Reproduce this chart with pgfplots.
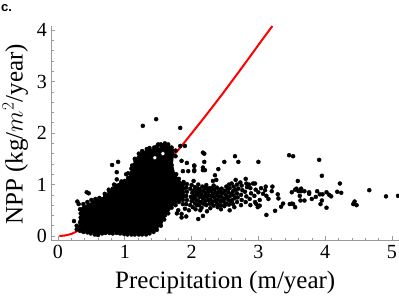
\documentclass[border=0pt]{standalone}
\usepackage{pgfplots}
\pgfplotsset{compat=1.18}
\usepackage{fontspec}
\setmainfont{Liberation Serif}
\newfontfamily\hv{Liberation Sans}
\definecolor{axgray}{gray}{0.6}
\begin{document}
\begin{tikzpicture}[x=1pt,y=1pt]
\path[use as bounding box] (0,0) rectangle (399,297);
\node[anchor=base west,inner sep=0pt,font=\hv\bfseries\fontsize{13}{14}\selectfont] at (1,285.5) {c.};
\begin{axis}[
 at={(51.5pt,56.5pt)},anchor=origin,scale only axis,width=347.5pt,height=214.5pt,
 anchor=south west,
 xmin=-0.097,xmax=5.105,ymin=-0.087,ymax=4.08,
 axis lines=left,axis line style={-,axgray,line width=0.7pt},
 xtick={0,1,2,3,4,5},ytick={0,1,2,3,4},
 minor x tick num=4,minor y tick num=4,
 tick align=inside,tick style={axgray,line width=0.6pt},
 major tick length=4pt,minor tick length=2.5pt,
 tick label style={font=\fontsize{20}{21}\selectfont},
 /pgf/number format/assume math mode=true,
 xticklabel style={yshift=-1pt},
 yticklabel style={xshift=-1pt},
 xlabel={Precipitation (m/year)},
 ylabel={NPP (kg/$m^2$/year)},
 label style={font=\fontsize{25}{26}\selectfont},
 xlabel style={at={(axis description cs:0.5,0)},anchor=north,yshift=-27pt},
 ylabel style={at={(axis description cs:0,0.495)},anchor=south,yshift=20pt},
 clip=false,
]
\addplot[red,line width=2pt,smooth,tension=0.3] coordinates {(0.02,0)(0.1,0.01)(0.2,0.04)(0.25,0.07)(0.5,0.25)(1,0.75)(1.5,1.3)(1.78,1.64)(2.2,2.32)(2.45,2.74)(2.77,3.3)(3.05,3.8)(3.21,4.08)};
% saturated core of the point cloud
\addplot[fill=black,draw=none] coordinates {(0.3,0.12)(0.45,0.08)(0.6,0.04)(0.85,0.07)(1.03,0.04)(1.37,0.05)(1.48,0.13)(1.55,0.25)(1.65,0.47)(1.75,0.62)(1.85,0.68)(1.9,0.75)(1.88,1.0)(1.76,1.18)(1.72,1.4)(1.74,1.62)(1.62,1.72)(1.55,1.72)(1.43,1.7)(1.32,1.68)(1.2,1.58)(1.15,1.48)(1.1,1.33)(1.04,1.06)(0.88,1.02)(0.78,0.88)(0.66,0.75)(0.5,0.66)(0.34,0.55)(0.3,0.12)};
\addplot[only marks,mark=*,mark size=2pt,mark options={fill=white,draw=none},forget plot] coordinates {(1.57,1.6)(1.45,1.52)};
\addplot[only marks,mark=*,mark size=2pt,mark options={fill=black,draw=none},black] coordinates {
(0.33,0.52)(0.38,0.62)(0.44,0.66)(0.5,0.7)(0.56,0.72)(0.62,0.74)(0.7,0.82)(0.76,0.9)(0.84,1.0)(0.88,1.1)(0.95,1.06)(1.65,1.78)(1.7,1.72)(1.76,1.66)(1.6,1.8)
(0.24,0.29)(0.28,0.13)(0.28,0.2)(0.29,0.67)(0.31,0.62)(0.33,0.1)(0.33,0.18)(0.33,0.27)(0.34,0.36)(0.34,0.44)
(0.38,0.08)(0.38,0.15)(0.39,0.23)(0.38,0.31)(0.39,0.39)(0.38,0.47)(0.39,0.55)
(0.43,0.85)(0.46,0.83)
(0.44,0.07)(0.43,0.13)(0.44,0.2)(0.45,0.28)(0.43,0.35)(0.45,0.43)(0.44,0.5)(0.45,0.58)
(0.49,0.05)(0.5,0.11)(0.49,0.18)(0.5,0.25)(0.49,0.33)(0.5,0.4)(0.49,0.48)(0.5,0.56)(0.51,0.61)
(0.55,0.03)(0.55,0.1)(0.56,0.16)(0.55,0.24)(0.56,0.31)(0.55,0.38)(0.56,0.46)(0.55,0.53)(0.56,0.6)(0.55,0.66)
(0.6,0.02)(0.61,0.08)(0.6,0.15)(0.61,0.22)(0.6,0.3)(0.61,0.37)(0.6,0.44)(0.61,0.52)(0.6,0.6)(0.61,0.68)
(0.66,0.05)(0.66,0.12)(0.67,0.19)(0.66,0.27)(0.67,0.34)(0.66,0.41)(0.67,0.49)(0.66,0.56)(0.67,0.64)(0.66,0.71)
(0.71,0.06)(0.72,0.14)(0.71,0.21)(0.72,0.29)(0.71,0.36)(0.72,0.44)(0.71,0.51)(0.72,0.59)(0.71,0.66)(0.72,0.73)(0.71,0.78)
(0.77,0.06)(0.77,0.13)(0.78,0.2)(0.77,0.27)(0.78,0.35)(0.77,0.42)(0.78,0.5)(0.77,0.57)(0.78,0.65)(0.77,0.72)(0.78,0.79)(0.77,0.86)
(0.81,1.38)(0.9,1.44)(0.88,1.24)(0.86,0.98)
(0.82,0.05)(0.83,0.12)(0.82,0.19)(0.83,0.27)(0.82,0.34)(0.83,0.42)(0.82,0.49)(0.83,0.57)(0.82,0.64)(0.83,0.72)(0.82,0.79)(0.83,0.86)(0.82,0.92)
(0.88,0.06)(0.88,0.14)(0.89,0.21)(0.88,0.29)(0.89,0.36)(0.88,0.44)(0.89,0.51)(0.88,0.59)(0.89,0.66)(0.88,0.74)(0.89,0.81)(0.88,0.89)(0.89,0.95)
(0.93,0.05)(0.94,0.12)(0.93,0.2)(0.94,0.27)(0.93,0.35)(0.94,0.42)(0.93,0.5)(0.94,0.57)(0.93,0.65)(0.94,0.72)(0.93,0.8)(0.94,0.87)(0.93,0.95)(0.94,1.01)
(0.99,0.04)(0.99,0.11)(1.0,0.19)(0.99,0.26)(1.0,0.34)(0.99,0.41)(1.0,0.49)(0.99,0.56)(1.0,0.64)(0.99,0.71)(1.0,0.79)(0.99,0.86)(1.0,0.94)(0.99,1.01)(1.0,1.07)
(1.05,1.22)(1.02,1.2)
(1.04,0.03)(1.05,0.1)(1.04,0.18)(1.05,0.25)(1.04,0.33)(1.05,0.4)(1.04,0.48)(1.05,0.55)(1.04,0.63)(1.05,0.7)(1.04,0.78)(1.05,0.85)(1.04,0.93)(1.05,1.0)(1.04,1.08)(1.05,1.13)
(1.1,0.03)(1.1,0.11)(1.11,0.18)(1.1,0.26)(1.11,0.33)(1.1,0.41)(1.11,0.48)(1.1,0.56)(1.11,0.63)(1.1,0.71)(1.11,0.78)(1.1,0.86)(1.11,0.93)(1.1,1.01)(1.11,1.08)(1.1,1.16)(1.11,1.23)(1.1,1.31)(1.11,1.37)
(1.15,0.03)(1.16,0.1)(1.15,0.18)(1.16,0.25)(1.15,0.33)(1.16,0.4)(1.15,0.48)(1.16,0.55)(1.15,0.63)(1.16,0.7)(1.15,0.78)(1.16,0.85)(1.15,0.93)(1.16,1.0)(1.15,1.08)(1.16,1.15)(1.15,1.23)(1.16,1.3)(1.15,1.38)(1.16,1.45)(1.15,1.5)
(1.21,0.03)(1.21,0.11)(1.22,0.18)(1.21,0.26)(1.22,0.33)(1.21,0.41)(1.22,0.48)(1.21,0.56)(1.22,0.63)(1.21,0.71)(1.22,0.78)(1.21,0.86)(1.22,0.93)(1.21,1.01)(1.22,1.08)(1.21,1.16)(1.22,1.23)(1.21,1.31)(1.22,1.38)(1.21,1.46)(1.22,1.53)(1.21,1.6)
(1.27,2.14)(1.47,2.27)(1.83,2.10)(1.83,1.75)(1.90,1.75)
(1.26,0.03)(1.27,0.1)(1.26,0.18)(1.27,0.25)(1.26,0.33)(1.27,0.4)(1.26,0.48)(1.27,0.55)(1.26,0.63)(1.27,0.7)(1.26,0.78)(1.27,0.85)(1.26,0.93)(1.27,1.0)(1.26,1.08)(1.27,1.15)(1.26,1.23)(1.27,1.3)(1.26,1.38)(1.27,1.45)(1.26,1.53)(1.27,1.6)(1.26,1.65)
(1.32,0.03)(1.32,0.11)(1.33,0.18)(1.32,0.26)(1.33,0.33)(1.32,0.41)(1.33,0.48)(1.32,0.56)(1.33,0.63)(1.32,0.71)(1.33,0.78)(1.32,0.86)(1.33,0.93)(1.32,1.01)(1.33,1.08)(1.32,1.16)(1.33,1.23)(1.32,1.31)(1.33,1.38)(1.32,1.46)(1.33,1.53)(1.32,1.61)(1.33,1.69)
(1.37,0.05)(1.38,0.12)(1.37,0.2)(1.38,0.27)(1.37,0.35)(1.38,0.42)(1.37,0.5)(1.38,0.57)(1.37,0.65)(1.38,0.72)(1.37,0.8)(1.38,0.87)(1.37,0.95)(1.38,1.02)(1.37,1.1)(1.38,1.17)(1.37,1.25)(1.38,1.32)(1.37,1.4)(1.38,1.47)(1.37,1.55)(1.38,1.62)(1.37,1.71)
(1.43,0.08)(1.43,0.16)(1.44,0.23)(1.43,0.31)(1.44,0.38)(1.43,0.46)(1.44,0.53)(1.43,0.61)(1.44,0.68)(1.43,0.76)(1.44,0.83)(1.43,0.91)(1.44,0.98)(1.43,1.06)(1.44,1.13)(1.43,1.21)(1.44,1.28)(1.43,1.36)(1.44,1.66)(1.44,1.72)
(1.48,0.12)(1.49,0.2)(1.48,0.27)(1.49,0.35)(1.48,0.42)(1.49,0.5)(1.48,0.57)(1.49,0.65)(1.48,0.72)(1.49,0.8)(1.48,0.87)(1.49,0.95)(1.48,1.02)(1.49,1.1)(1.48,1.17)(1.49,1.25)(1.48,1.32)(1.49,1.4)(1.49,1.68)(1.48,1.74)
(1.54,0.2)(1.54,0.27)(1.55,0.35)(1.54,0.42)(1.55,0.5)(1.54,0.57)(1.55,0.65)(1.54,0.72)(1.55,0.8)(1.54,0.87)(1.55,0.95)(1.54,1.02)(1.55,1.1)(1.54,1.17)(1.55,1.25)(1.54,1.32)(1.55,1.39)(1.54,1.47)(1.55,1.73)(1.54,1.78)(1.5,1.78)
(1.59,0.32)(1.6,0.4)(1.59,0.47)(1.6,0.55)(1.59,0.62)(1.6,0.7)(1.59,0.77)(1.6,0.85)(1.59,0.92)(1.6,1.0)(1.59,1.07)(1.6,1.15)(1.59,1.22)(1.6,1.3)(1.59,1.38)(1.6,1.45)(1.6,1.72)(1.59,1.77)
(1.65,0.44)(1.65,0.52)(1.66,0.59)(1.65,0.67)(1.66,0.74)(1.65,0.82)(1.66,0.89)(1.65,0.97)(1.66,1.04)(1.65,1.12)(1.66,1.19)(1.65,1.27)(1.66,1.5)(1.65,1.58)(1.66,1.66)(1.65,1.73)
(1.7,0.55)(1.71,0.62)(1.7,0.7)(1.71,0.77)(1.7,0.85)(1.71,0.92)(1.7,1.0)(1.71,1.07)(1.7,1.15)(1.71,1.22)(1.7,1.55)(1.71,1.62)(1.7,1.38)(1.7,1.68)
(1.76,0.6)(1.76,0.68)(1.77,0.75)(1.76,0.83)(1.77,0.9)(1.76,0.98)(1.77,1.05)(1.76,1.13)(1.77,1.2)(1.76,1.55)
(1.81,0.66)(1.82,0.73)(1.81,0.81)(1.82,0.88)(1.81,0.96)(1.82,1.03)(1.81,1.11)(1.8,0.5)(1.78,0.44)
(1.87,0.62)(1.87,0.7)(1.88,0.77)(1.87,0.85)(1.88,0.92)(1.87,1.0)(1.88,1.05)(1.85,0.43)(1.92,0.38)(1.85,0.36)
(1.92,0.62)(1.93,0.7)(1.92,0.78)(1.93,0.86)(1.92,0.94)(1.93,1.01)(1.96,0.5)(1.9,0.53)
(1.85,1.46)(1.93,1.42)(2.04,1.36)(1.87,1.26)(1.95,1.26)(2.04,1.26)(2.17,1.62)(2.19,1.6)(2.19,1.44)(2.49,1.44)(2.65,1.55)(2.70,1.44)(3.0,1.44)(3.46,1.57)(3.52,1.55)(2.04,1.37)(2.04,1.28)(2.17,1.33)(2.17,1.28)(2.2,1.28)(2.40,1.30)(2.35,1.18)(2.37,1.09)(2.32,1.07)(2.03,1.07)
(3.12,0.41)(3.25,0.49)(2.57,0.50)(2.10,0.33)(2.17,0.39)
(3.91,1.48)(3.95,1.17)(3.59,1.07)(4.22,1.02)(4.66,0.89)(4.91,0.77)(5.09,0.78)
(3.50,0.85)(3.55,0.9)(3.57,0.92)(3.6,0.87)(3.64,0.92)(3.64,0.87)(3.69,0.87)(3.76,0.85)(3.76,0.82)(3.62,0.78)(3.88,0.87)(3.86,0.76)(3.8,0.72)(3.92,0.81)(3.96,0.81)(4.02,0.85)(4.06,0.8)(4.09,0.77)(4.18,0.86)(4.24,0.84)(3.95,0.69)(3.93,0.62)(4.02,0.55)(3.63,0.69)(3.69,0.69)(3.47,0.62)(3.5,0.63)(3.55,0.56)(4.44,0.67)(4.42,0.62)(4.47,0.6)
(3.29,0.81)(3.30,0.73)(3.11,0.96)(3.21,0.96)(3.2,0.87)(3.10,0.89)(3.02,0.59)(2.99,0.56)(3.34,0.57)(3.37,0.63)(3.52,0.62)(2.95,1.02)(2.92,1.02)(2.81,1.11)(2.66,1.09)(2.6,1.02)
(1.98,0.6)(2.0,0.68)(1.99,0.76)(2.01,0.84)(1.98,0.92)(2.0,0.99)(2.02,0.56)
(2.05,0.64)(2.06,0.72)(2.04,0.79)(2.07,0.87)(2.05,0.95)(2.06,0.52)
(2.11,0.6)(2.1,0.68)(2.12,0.76)(2.1,0.84)(2.12,0.91)(2.1,1.0)(2.13,0.5)
(2.16,0.64)(2.17,0.72)(2.15,0.8)(2.18,0.88)(2.16,0.96)(2.15,0.55)
(2.22,0.6)(2.21,0.68)(2.23,0.76)(2.21,0.83)(2.23,0.92)(2.22,0.99)(2.23,0.48)
(2.27,0.63)(2.28,0.71)(2.26,0.79)(2.29,0.87)(2.27,0.93)(2.28,0.54)
(2.33,0.59)(2.32,0.67)(2.34,0.75)(2.32,0.82)(2.34,0.9)(2.33,0.98)
(2.38,0.63)(2.39,0.71)(2.38,0.79)(2.4,0.86)(2.38,0.94)(2.39,0.56)
(2.44,0.6)(2.43,0.68)(2.45,0.76)(2.44,0.84)(2.45,0.92)(2.44,0.52)
(2.5,0.64)(2.49,0.72)(2.51,0.8)(2.5,0.88)(2.52,0.96)(2.49,0.58)
(2.56,0.61)(2.55,0.7)(2.57,0.77)(2.55,0.85)(2.57,0.93)(2.56,1.0)
(2.62,0.62)(2.61,0.7)(2.63,0.79)(2.62,0.87)(2.63,0.96)(2.64,0.56)
(2.68,0.66)(2.69,0.75)(2.68,0.83)(2.7,0.92)(2.68,1.0)
(2.74,0.6)(2.75,0.7)(2.74,0.8)(2.76,0.89)(2.75,0.98)(2.73,1.04)
(2.81,0.66)(2.82,0.77)(2.8,0.86)(2.83,0.95)(2.82,1.02)
(2.88,0.6)(2.87,0.72)(2.89,0.83)(2.88,0.93)(2.86,1.0)
(2.95,0.66)(2.94,0.78)(2.96,0.9)(2.97,0.62)(3.0,0.85)(3.02,0.7)(3.04,0.93)(3.07,0.82)(3.12,0.78)(3.15,0.72)
(2.02,0.72)(2.03,0.88)(2.08,0.6)(2.08,0.8)(2.09,0.92)(2.13,0.66)(2.14,0.85)(2.19,0.76)(2.19,0.62)(2.2,0.95)(2.25,0.7)(2.25,0.86)(2.3,0.63)(2.3,0.78)(2.31,0.93)(2.36,0.69)(2.36,0.84)(2.41,0.6)(2.42,0.77)(2.42,0.9)(2.47,0.68)(2.47,0.84)(2.53,0.75)(2.53,0.62)(2.54,0.9)(2.59,0.67)(2.59,0.82)(2.65,0.74)(2.66,0.9)
};
\end{axis}
\end{tikzpicture}
\end{document}
